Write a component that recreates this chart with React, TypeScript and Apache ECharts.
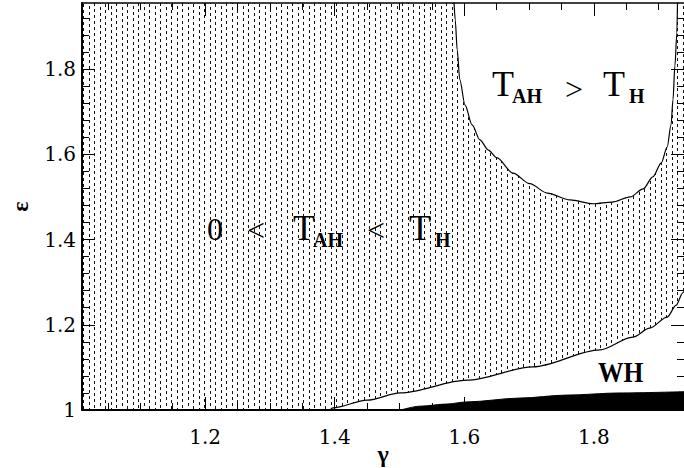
import React, { useEffect, useRef } from "react";
import * as echarts from "echarts";

// Axis ranges (γ horizontally, ε vertically)
const gammaRange = [1.01, 1.939];
const epsRange = [1.0, 1.955];

// Tick values
const xMajorTicks = [1.2, 1.4, 1.6, 1.8];
const xMinorTicks = [1.05, 1.1, 1.15, 1.25, 1.3, 1.35, 1.45, 1.5, 1.55, 1.65, 1.7, 1.75, 1.85, 1.9];
const yMajorTicks = [1.0, 1.2, 1.4, 1.6, 1.8];
const yMinorTicks = [
  1.04, 1.08, 1.12, 1.16, 1.24, 1.28, 1.32, 1.36, 1.44, 1.48, 1.52, 1.56,
  1.64, 1.68, 1.72, 1.76, 1.84, 1.88, 1.92,
];

// Upper boundary: T_AH = T_H
const upperGamma = [1.584, 1.586, 1.589, 1.593, 1.601, 1.612, 1.624, 1.637, 1.65, 1.675, 1.701, 1.728, 1.763, 1.799, 1.828, 1.856, 1.876, 1.891, 1.904, 1.913, 1.919, 1.922, 1.925, 1.928, 1.929];
const upperEps = [1.96, 1.915, 1.845, 1.775, 1.716, 1.669, 1.634, 1.61, 1.592, 1.556, 1.531, 1.509, 1.493, 1.484, 1.488, 1.5, 1.519, 1.547, 1.58, 1.617, 1.669, 1.728, 1.808, 1.885, 1.96];

// Lower boundary: T_AH = 0 (wormhole region below)
const lowerGamma = [1.393, 1.397, 1.45, 1.501, 1.604, 1.706, 1.809, 1.86, 1.886, 1.913, 1.927, 1.937, 1.94];
const lowerEps = [1.0, 1.005, 1.023, 1.04, 1.07, 1.101, 1.141, 1.171, 1.192, 1.218, 1.246, 1.275, 1.282];

// Black (excluded) region top boundary
const blackGamma = [1.502, 1.532, 1.573, 1.604, 1.686, 1.758, 1.84, 1.94];
const blackEps = [1.0, 1.009, 1.014, 1.019, 1.028, 1.035, 1.04, 1.043];

const zip = (a: number[], b: number[]) => a.map((v, i) => [v, b[i]]);

function makeHatch() {
  const c = document.createElement("canvas");
  c.width = 22;
  c.height = 12;
  const ctx = c.getContext("2d")!;
  ctx.fillStyle = "#111";
  const cols = [
    { x: 1, phase: 0 },
    { x: 6, phase: 3 },
    { x: 12, phase: 1 },
    { x: 17, phase: 4 },
  ];
  cols.forEach(({ x, phase }) => {
    for (let y = -6; y < 18; y += 6) {
      ctx.fillRect(x, y + phase, 1, 3);
    }
  });
  return c;
}

const SERIF = "Liberation Serif";
const TICKFONT = "DejaVu Serif";

export default function App() {
  const ref = useRef<HTMLDivElement>(null);
  useEffect(() => {
    document.body.style.margin = "0";
    const chart = echarts.init(ref.current!, null, { renderer: "svg" });
    const hatch = makeHatch();
    const pattern: any = { image: hatch, repeat: "repeat", imageWidth: 22, imageHeight: 12 };

    const baseX = {
      type: "value" as const,
      min: gammaRange[0],
      max: gammaRange[1],
      splitLine: { show: false },
      z: 10,
    };
    const baseY = {
      type: "value" as const,
      min: epsRange[0],
      max: epsRange[1],
      splitLine: { show: false },
      z: 10,
    };
    const tickStyle = { color: "#000", width: 1 };
    const txt = (text: string, x: number, y: number, size: number, bold = false, extra: any = {}) => ({
      type: "text",
      x,
      y,
      z: 20,
      ...extra,
      style: {
        text,
        fontFamily: SERIF,
        fontSize: size,
        fontWeight: bold ? "bold" : "normal",
        fill: "#000",
        verticalAlign: "middle",
      },
    });

    chart.setOption({
      animation: false,
      backgroundColor: "#fff",
      grid: { left: 82, top: 3, right: 0, bottom: 58, containLabel: false, outerBoundsMode: "none" },
      xAxis: [
        {
          ...baseX,
          position: "bottom",
          axisLine: { show: true, onZero: false, lineStyle: { color: "#000", width: 2 } },
          axisTick: { show: true, inside: true, length: 13, customValues: xMajorTicks, lineStyle: tickStyle },
          axisLabel: { customValues: xMajorTicks, margin: 17, fontFamily: TICKFONT, fontSize: 20, color: "#000" },
          name: "γ",
          nameLocation: "middle",
          nameGap: 32,
          nameMoveOverlap: false,
          nameTextStyle: { fontFamily: SERIF, fontSize: 24, fontWeight: "bold", color: "#000" },
        },
        {
          ...baseX,
          position: "bottom",
          axisLine: { show: false, onZero: false },
          axisTick: { show: true, inside: true, length: 7, customValues: xMinorTicks, lineStyle: tickStyle },
          axisLabel: { show: false },
        },
        {
          ...baseX,
          position: "top",
          axisLine: { show: true, onZero: false, lineStyle: { color: "#000", width: 1.5 } },
          axisTick: { show: true, inside: true, length: 13, customValues: xMajorTicks, lineStyle: tickStyle },
          axisLabel: { show: false },
        },
        {
          ...baseX,
          position: "top",
          axisLine: { show: false, onZero: false },
          axisTick: { show: true, inside: true, length: 7, customValues: xMinorTicks, lineStyle: tickStyle },
          axisLabel: { show: false },
        },
      ],
      yAxis: [
        {
          ...baseY,
          position: "left",
          axisLine: { show: true, onZero: false, lineStyle: { color: "#000", width: 2 } },
          axisTick: { show: true, inside: true, length: 13, customValues: yMajorTicks, lineStyle: tickStyle },
          axisLabel: { customValues: yMajorTicks, margin: 6, fontFamily: TICKFONT, fontSize: 20, color: "#000" },
          name: "ε",
          nameLocation: "middle",
          nameGap: 50,
          nameRotate: 90,
          nameTextStyle: { fontFamily: SERIF, fontSize: 24, fontWeight: "bold", color: "#000" },
        },
        {
          ...baseY,
          position: "left",
          axisLine: { show: false, onZero: false },
          axisTick: { show: true, inside: true, length: 7, customValues: yMinorTicks, lineStyle: tickStyle },
          axisLabel: { show: false },
        },
        {
          ...baseY,
          position: "right",
          axisLine: { show: false, onZero: false },
          axisTick: { show: true, inside: true, length: 13, customValues: yMajorTicks, lineStyle: tickStyle },
          axisLabel: { show: false },
        },
        {
          ...baseY,
          position: "right",
          axisLine: { show: false, onZero: false },
          axisTick: { show: true, inside: true, length: 7, customValues: yMinorTicks, lineStyle: tickStyle },
          axisLabel: { show: false },
        },
      ],
      series: [
        {
          type: "line",
          xAxisIndex: 0,
          yAxisIndex: 0,
          data: [
            [gammaRange[0], epsRange[1]],
            [gammaRange[1], epsRange[1]],
          ],
          showSymbol: false,
          silent: true,
          lineStyle: { width: 0, opacity: 0 },
          areaStyle: { color: pattern, opacity: 1, origin: "start" },
          z: 1,
        },
        {
          type: "line",
          xAxisIndex: 0,
          yAxisIndex: 0,
          data: zip(upperGamma, upperEps),
          smooth: 0.3,
          smoothMonotone: "x",
          showSymbol: false,
          silent: true,
          lineStyle: { color: "#000", width: 1.2 },
          areaStyle: { color: "#fff", opacity: 1, origin: "end" },
          z: 2,
        },
        {
          type: "line",
          xAxisIndex: 0,
          yAxisIndex: 0,
          data: zip(lowerGamma, lowerEps),
          smooth: 0.3,
          smoothMonotone: "x",
          showSymbol: false,
          silent: true,
          lineStyle: { color: "#000", width: 1.2 },
          areaStyle: { color: "#fff", opacity: 1, origin: "start" },
          z: 2,
        },
        {
          type: "line",
          xAxisIndex: 0,
          yAxisIndex: 0,
          data: zip(blackGamma, blackEps),
          smooth: 0.3,
          smoothMonotone: "x",
          showSymbol: false,
          silent: true,
          lineStyle: { color: "#000", width: 1 },
          areaStyle: { color: "#000", opacity: 1, origin: "start" },
          z: 3,
        },
      ],
      graphic: {
        elements: [
          // T_AH > T_H
          txt("T", 492, 84, 36),
          txt("AH", 512, 96, 20, true),
          txt(">", 565, 89, 32),
          txt("T", 603, 84, 36),
          txt("H", 629, 96, 20, true),
          // 0 < T_AH < T_H
          txt("0", 207, 229, 32),
          txt("<", 247, 230, 32),
          txt("T", 293, 228, 36),
          txt("AH", 313, 240, 20, true),
          txt("<", 367, 230, 32),
          txt("T", 409, 228, 36),
          txt("H", 435, 240, 20, true),
          // WH
          txt("WH", 598, 372, 30, true, { scaleX: 0.85 }),
        ],
      },
    });
    return () => chart.dispose();
  }, []);
  return (
    <div
      ref={ref}
      style={{ position: "fixed", left: 0, top: 0, width: 684, height: 468, background: "#fff" }}
    />
  );
}
